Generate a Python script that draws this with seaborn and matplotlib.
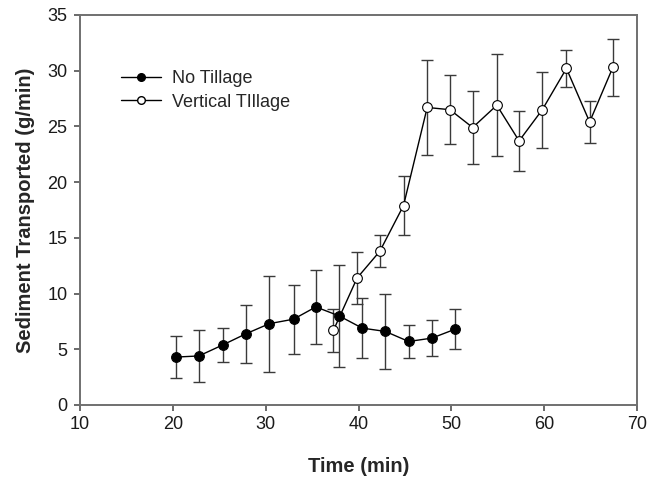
import seaborn as sns
import matplotlib.pyplot as plt
from matplotlib.lines import Line2D

# values
nt_time = [20.3, 22.8, 25.4, 27.9, 30.4, 33.0, 35.4, 37.9, 40.4, 42.9, 45.4, 47.9, 50.4]
nt_sed = [4.3, 4.4, 5.4, 6.4, 7.3, 7.7, 8.8, 8.0, 6.9, 6.6, 5.7, 6.0, 6.8]
nt_err = [1.9, 2.35, 1.5, 2.6, 4.3, 3.1, 3.3, 4.6, 2.7, 3.4, 1.5, 1.6, 1.8]

vt_time = [37.3, 39.85, 42.3, 44.85, 47.4, 49.85, 52.3, 54.9, 57.3, 59.8, 62.4, 64.9, 67.4]
vt_sed = [6.7, 11.4, 13.8, 17.9, 26.7, 26.5, 24.9, 26.9, 23.7, 26.5, 30.2, 25.4, 30.3]
vt_err = [1.9, 2.3, 1.45, 2.65, 4.3, 3.1, 3.25, 4.6, 2.7, 3.4, 1.7, 1.85, 2.55]

sns.set_style('white')
plt.rcParams['font.family'] = ['Liberation Sans', 'DejaVu Sans']

fig = plt.figure(figsize=(6.48, 4.83), dpi=100)
ax = fig.add_axes([0.1235, 0.1615, 0.8595, 0.8075])

# error bars first so the markers sit on top
ax.errorbar(nt_time, nt_sed, yerr=nt_err, fmt='none', ecolor='#3a3a3a',
            elinewidth=1.0, capsize=4.3, capthick=1.0, zorder=1)
ax.errorbar(vt_time, vt_sed, yerr=vt_err, fmt='none', ecolor='#3a3a3a',
            elinewidth=1.0, capsize=4.3, capthick=1.0, zorder=1)

sns.lineplot(x=nt_time, y=nt_sed, ax=ax, color='black', linewidth=1.0,
             marker='o', markersize=7, markerfacecolor='black',
             markeredgecolor='black', markeredgewidth=0.8, zorder=3)
sns.lineplot(x=vt_time, y=vt_sed, ax=ax, color='black', linewidth=1.0,
             marker='o', markersize=7, markerfacecolor='white',
             markeredgecolor='black', markeredgewidth=0.8, zorder=3)

ax.set_xlim(10, 70)
ax.set_ylim(0, 35)
ax.set_xticks(range(10, 71, 10))
ax.set_yticks(range(0, 36, 5))

for s in ax.spines.values():
    s.set_color('#707070')
    s.set_linewidth(1.4)
ax.tick_params(axis='both', which='both', direction='out', length=4,
               width=1.2, color='#505050', labelsize=13, labelcolor='#1a1a1a',
               bottom=True, left=True, top=False, right=False)
ax.tick_params(axis='x', pad=4)
ax.tick_params(axis='y', pad=5)

ax.set_xlabel('Time (min)', fontsize=14.5, fontweight='bold', labelpad=17)
ax.set_ylabel('Sediment Transported (g/min)', fontsize=14.5, fontweight='bold', labelpad=9)

handles = [
    Line2D([], [], color='black', linewidth=1.0, marker='o', markersize=5.5,
           markerfacecolor='black', markeredgecolor='black'),
    Line2D([], [], color='black', linewidth=1.0, marker='o', markersize=5.5,
           markerfacecolor='white', markeredgecolor='black'),
]
ax.legend(handles, ['No Tillage', 'Vertical TIllage'], loc='upper left',
          bbox_to_anchor=(0.045, 0.9), frameon=False, fontsize=13,
          handlelength=2.2, handletextpad=0.6, labelspacing=0.35)

fig.savefig('out.png', dpi=100)
